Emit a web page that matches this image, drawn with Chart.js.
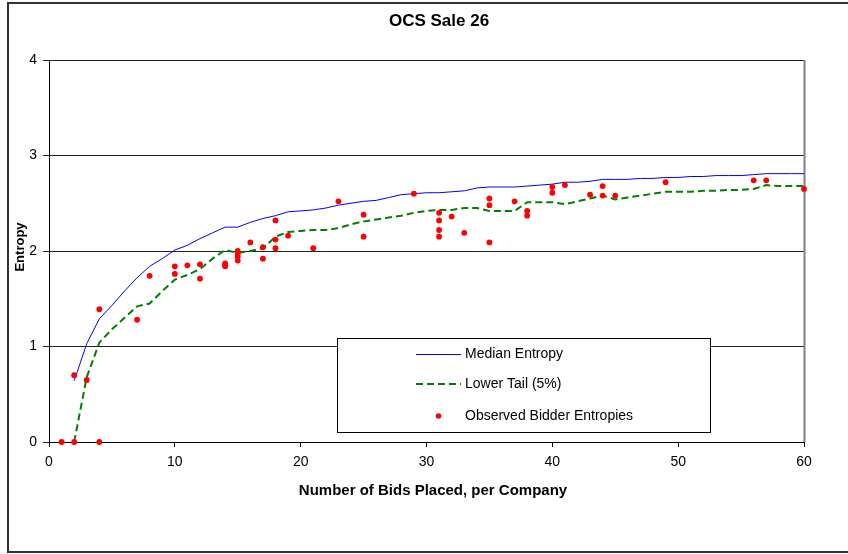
<!DOCTYPE html>
<html>
<head>
<meta charset="utf-8">
<script src="https://cdn.jsdelivr.net/npm/chart.js@4.4.1/dist/chart.umd.min.js"></script>
<style>
html,body{margin:0;padding:0;background:#fff;}
canvas{display:block;}
</style>
</head>
<body>
<canvas id="c" width="848" height="554"></canvas>
<script>
const chartTitle = "OCS Sale 26";
const xTitle = "Number of Bids Placed, per Company";
const yTitle = "Entropy";
const seriesNames = ["Median Entropy", "Lower Tail (5%)", "Observed Bidder Entropies"];

const xTicks = [0, 10, 20, 30, 40, 50, 60];
const yTicks = [0, 1, 2, 3, 4];

const bids = [2,3,4,5,6,7,8,9,10,11,12,13,14,15,16,17,18,19,20,21,22,23,24,25,26,27,28,29,30,31,32,33,34,35,36,37,38,39,40,41,42,43,44,45,46,47,48,49,50,51,52,53,54,55,56,57,58,59,60];
const medianEntropy = [0.64,1.03,1.29,1.43,1.58,1.72,1.84,1.92,2.01,2.06,2.13,2.19,2.25,2.25,2.30,2.34,2.37,2.41,2.42,2.43,2.45,2.48,2.50,2.52,2.53,2.56,2.59,2.60,2.61,2.61,2.62,2.63,2.66,2.67,2.67,2.67,2.68,2.69,2.70,2.72,2.72,2.73,2.75,2.75,2.75,2.76,2.76,2.77,2.77,2.78,2.78,2.79,2.79,2.79,2.80,2.81,2.81,2.81,2.81];
const lowerTail = [0.00,0.68,1.04,1.18,1.30,1.42,1.45,1.58,1.70,1.75,1.81,1.92,2.01,1.98,2.00,2.03,2.15,2.20,2.21,2.22,2.22,2.24,2.28,2.31,2.33,2.35,2.37,2.40,2.42,2.43,2.43,2.45,2.45,2.42,2.42,2.42,2.51,2.51,2.51,2.49,2.52,2.55,2.58,2.54,2.56,2.58,2.60,2.62,2.62,2.62,2.63,2.63,2.64,2.64,2.65,2.69,2.68,2.68,2.68];

const obsBids = [1,2,4,2,3,4,7,8,10,10,11,12,12,14,14,14,15,15,15,15,16,17,17,18,18,18,19,21,23,25,25,29,31,31,31,31,32,33,35,35,35,37,38,38,40,40,41,43,44,44,45,49,56,57,60];
const obsEntropy = [0,0,0,0.70,0.65,1.39,1.28,1.74,1.84,1.76,1.85,1.86,1.71,1.87,1.85,1.84,2.00,1.97,1.94,1.90,2.09,2.04,1.92,2.32,2.12,2.03,2.16,2.03,2.52,2.38,2.15,2.60,2.40,2.32,2.22,2.15,2.36,2.19,2.55,2.48,2.09,2.52,2.42,2.37,2.67,2.61,2.69,2.59,2.68,2.58,2.58,2.72,2.74,2.74,2.65];

const FONT = "'Liberation Sans', Arial, sans-serif";

const decor = {
  id: 'decor',
  beforeDraw(chart) {
    const ctx = chart.ctx;
    ctx.save();
    ctx.fillStyle = '#fff';
    ctx.fillRect(0, 0, chart.width, chart.height);
    ctx.strokeStyle = '#333';
    ctx.lineWidth = 2;
    ctx.strokeRect(8, 3, 900, 549);
    ctx.restore();
  },
  beforeDatasetsDraw(chart) {
    const ctx = chart.ctx, a = chart.chartArea;
    ctx.save();
    ctx.strokeStyle = '#808080';
    ctx.lineWidth = 2;
    ctx.beginPath();
    ctx.moveTo(a.right + 0.5, a.top);
    ctx.lineTo(a.right + 0.5, a.bottom);
    ctx.stroke();
    ctx.restore();
  },
  afterDraw(chart) {
    const ctx = chart.ctx;
    ctx.save();
    ctx.fillStyle = '#000';
    ctx.textAlign = 'center';
    ctx.textBaseline = 'middle';
    ctx.font = "bold 17px " + FONT;
    ctx.fillText(chartTitle, 439, 21);
    ctx.font = "bold 15px " + FONT;
    ctx.fillText(xTitle, 433, 491);
    ctx.save();
    ctx.translate(20, 247);
    ctx.rotate(-Math.PI / 2);
    ctx.font = "bold 13px " + FONT;
    ctx.fillText(yTitle, 0, 0);
    ctx.restore();

    // legend
    ctx.fillStyle = '#fff';
    ctx.fillRect(337.5, 338.5, 373, 94);
    ctx.strokeStyle = '#000';
    ctx.lineWidth = 1;
    ctx.strokeRect(337.5, 338.5, 373, 94);
    ctx.strokeStyle = '#0000ff';
    ctx.lineWidth = 1;
    ctx.beginPath(); ctx.moveTo(416, 354.5); ctx.lineTo(461, 354.5); ctx.stroke();
    ctx.strokeStyle = '#008000';
    ctx.lineWidth = 2;
    ctx.setLineDash([7, 4]);
    ctx.beginPath(); ctx.moveTo(416, 384); ctx.lineTo(461, 384); ctx.stroke();
    ctx.setLineDash([]);
    ctx.fillStyle = '#ff0000';
    ctx.beginPath(); ctx.arc(438.5, 416, 2.8, 0, Math.PI * 2); ctx.fill();
    ctx.fillStyle = '#000';
    ctx.textAlign = 'left';
    ctx.font = "14px " + FONT;
    ctx.fillText(seriesNames[0], 465, 354);
    ctx.fillText(seriesNames[1], 465, 384);
    ctx.fillText(seriesNames[2], 465, 416);
    ctx.restore();
  }
};

new Chart(document.getElementById('c'), {
  type: 'scatter',
  data: {
    datasets: [
      {
        label: seriesNames[2],
        data: obsBids.map((x, i) => ({x: x, y: obsEntropy[i]})),
        backgroundColor: '#ff0000',
        borderWidth: 0,
        pointRadius: 2.9,
        showLine: false,
        clip: false,
        order: 0
      },
      {
        label: seriesNames[0],
        data: bids.map((x, i) => ({x: x, y: medianEntropy[i]})),
        borderColor: '#0000ff',
        borderWidth: 1,
        pointRadius: 0,
        showLine: true,
        tension: 0,
        order: 1
      },
      {
        label: seriesNames[1],
        data: bids.map((x, i) => ({x: x, y: lowerTail[i]})),
        borderColor: '#008000',
        borderWidth: 2,
        borderDash: [7, 4],
        pointRadius: 0,
        showLine: true,
        tension: 0,
        order: 2
      }
    ]
  },
  options: {
    responsive: false,
    animation: false,
    devicePixelRatio: 1,
    layout: { padding: { left: 0, top: 60, right: 44, bottom: 0 } },
    plugins: { legend: { display: false }, title: { display: false }, tooltip: { enabled: false } },
    scales: {
      x: {
        type: 'linear',
        min: 0, max: 60,
        afterFit(s) { s.height = 112; },
        afterBuildTicks(s) { s.ticks = xTicks.map(v => ({value: v})); },
        grid: { drawOnChartArea: false, drawTicks: true, tickLength: 5, color: '#000' },
        border: { display: true, color: '#000', width: 1 },
        ticks: { color: '#000', font: { family: FONT, size: 14 }, padding: 7, maxRotation: 0 }
      },
      y: {
        type: 'linear',
        min: 0, max: 4,
        afterFit(s) { s.width = 49; },
        afterBuildTicks(s) { s.ticks = yTicks.map(v => ({value: v})); },
        grid: { drawOnChartArea: true, drawTicks: true, tickLength: 6, color: '#222' },
        border: { display: true, color: '#000', width: 1 },
        ticks: { color: '#000', font: { family: FONT, size: 14 }, padding: 6 }
      }
    }
  },
  plugins: [decor]
});
</script>
</body>
</html>
